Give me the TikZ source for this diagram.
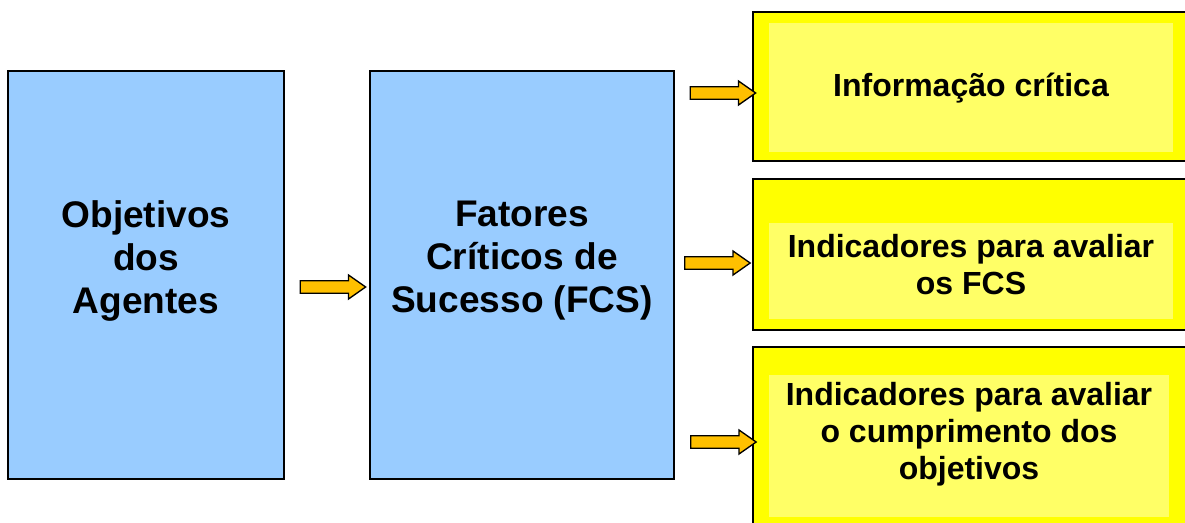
\documentclass[tikz,border=0pt]{standalone}
\usepackage{fontspec}
\setmainfont{Liberation Sans}
\usetikzlibrary{shapes.arrows}

\tikzset{
  bluebox/.style={draw, line width=1.5pt, fill={rgb, 255:red, 153; green, 204; blue, 255}, inner sep=0pt},
  yellowbox/.style={draw, line width=1.1pt, fill={rgb, 255:red, 255; green, 255; blue, 0}, inner sep=0pt, minimum width=331.5pt},
  innerfill/.style={fill={rgb, 255:red, 255; green, 255; blue, 102}},
  bluetext/.style={align=center, font=\bfseries\fontsize{27.8}{32.25}\selectfont},
  yellowtext/.style={align=center, font=\bfseries\fontsize{24}{27.75}\selectfont},
  blockarrow/.style={single arrow, draw, line width=1pt, fill={rgb, 255:red, 255; green, 192; blue, 0},
    minimum height=49pt, inner xsep=0pt, inner ysep=4.2pt, single arrow head extend=4.3pt, single arrow tip angle=70}
}

\begin{document}
\begin{tikzpicture}[x=0.75pt,y=0.75pt,yscale=-1,xscale=1]
\useasboundingbox (0,0) rectangle (1185,522);

% Blue boxes
\node [bluebox, minimum width=207pt, minimum height=306pt] (objetivos) at (146,275) {};
\node [bluebox, minimum width=228pt, minimum height=306pt] (fcs) at (522,275) {};
\node [bluetext] (objtxt) at (146,261) {Objetivos\\dos\\Agentes};
\node [bluetext] (fcstxt) at (522,261) {Fatores\\Críticos de\\Sucesso (FCS)};

% Yellow boxes
\node [yellowbox, minimum height=111.75pt] (info) at (974,86.5) {};
\fill [innerfill] (769,23) rectangle (1173,152);
\node [yellowtext] (infotxt) at (971,88) {Informação crítica};

\node [yellowbox, minimum height=113.25pt] (indfcs) at (974,254.5) {};
\fill [innerfill] (769,223) rectangle (1173,319);
\node [yellowtext] (indfcstxt) at (971,265) {Indicadores para avaliar\\os FCS};

\node [yellowbox, minimum height=144.75pt] (indobj) at (974,443.5) {};
\fill [innerfill] (769,375) rectangle (1169,517);
\node [yellowtext] (indobjtxt) at (969,434) {Indicadores para avaliar\\o cumprimento dos\\objetivos};

% Block arrows
\node [blockarrow] (arrfcs) at (328.5,287) {};
\node [blockarrow] (arrinfo) at (718.5,93) {};
\node [blockarrow] (arrindfcs) at (713,263) {};
\node [blockarrow] (arrindobj) at (719,442) {};

\end{tikzpicture}
\end{document}
